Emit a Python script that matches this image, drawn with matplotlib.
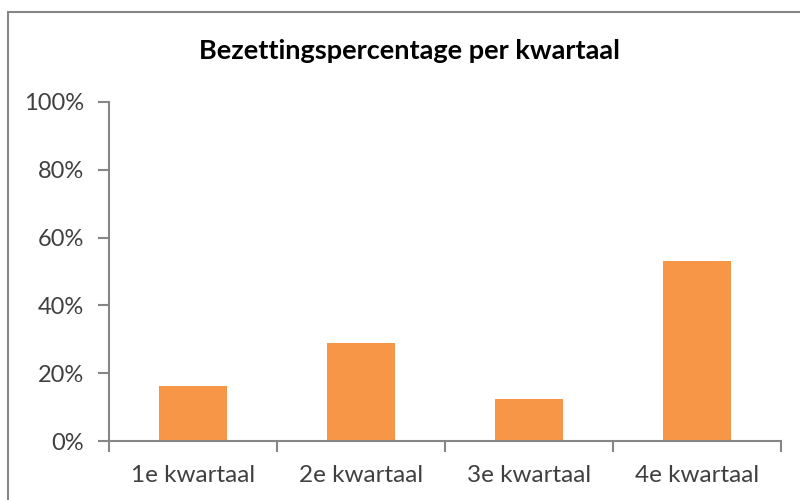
import matplotlib
matplotlib.use("Agg")
import matplotlib.pyplot as plt
from matplotlib.patches import Rectangle
from matplotlib.ticker import FuncFormatter

categories = ["1e kwartaal", "2e kwartaal", "3e kwartaal", "4e kwartaal"]
values = [16.2, 28.9, 12.4, 53.1]
yticks = [0, 20, 40, 60, 80, 100]

plt.rcParams['font.family'] = ['Lato', 'DejaVu Sans']

fig = plt.figure(figsize=(8, 5), dpi=100)
fig.patches.append(Rectangle((8/800, -0.1), 1.2, 1 - 12/500 + 0.1, transform=fig.transFigure,
                             fill=False, edgecolor='#868686', linewidth=1.5))

ax = fig.add_axes([109/800, 1 - 441/500, (781 - 109)/800, (441 - 102)/500])
x = list(range(len(categories)))
ax.bar(x, values, width=0.4, color='#F79646')
ax.set_xlim(-0.5, len(categories) - 0.5)
ax.set_ylim(0, 100)
ax.set_yticks(yticks)
ax.yaxis.set_major_formatter(FuncFormatter(lambda v, p: f"{int(v)}%"))
ax.set_xticks([i - 0.5 for i in range(len(categories) + 1)])
ax.set_xticklabels([])
ax.set_xticks(x, minor=True)
ax.set_xticklabels(categories, minor=True)
ax.tick_params(axis='x', which='minor', length=0, labelsize=17.5, colors='#404040', pad=17)
ax.tick_params(axis='x', which='major', length=8, color='#868686', width=1.5)
ax.tick_params(axis='y', length=8, color='#868686', width=1.5, labelsize=17, labelcolor='#404040', pad=10)
for s in ['top', 'right']:
    ax.spines[s].set_visible(False)
for s in ['left', 'bottom']:
    ax.spines[s].set_color('#868686')
    ax.spines[s].set_linewidth(1.5)

fig.text(410/800, 1 - 51/500, "Bezettingspercentage per kwartaal", ha='center', va='center',
         fontsize=19.5, fontweight='bold', color='black')

fig.savefig("out.png", dpi=100)
